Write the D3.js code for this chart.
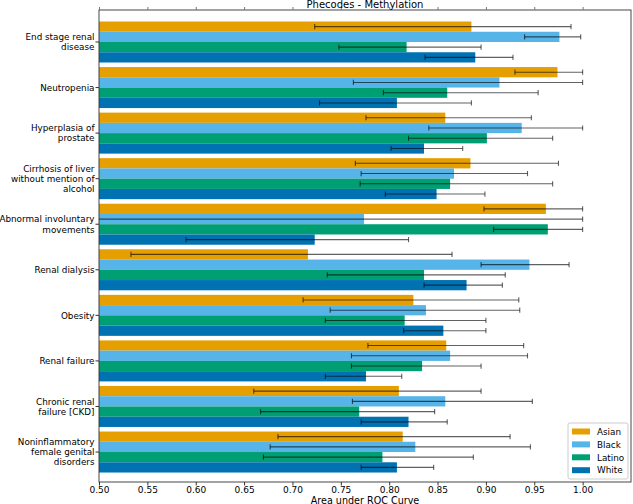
<!DOCTYPE html>
<html>
<head>
<meta charset="utf-8">
<script src="https://cdn.jsdelivr.net/npm/d3@7"></script>
<style>
  body { margin: 0; background: #fff; }
  svg { display: block; font-family: "DejaVu Sans", sans-serif; }
</style>
</head>
<body>
<svg id="chart" width="633" height="504"></svg>
<script>
// ---- data ----
const categories = [
  ["End stage renal", "disease"],
  ["Neutropenia"],
  ["Hyperplasia of", "prostate"],
  ["Cirrhosis of liver", "without mention of", "alcohol"],
  ["Abnormal involuntary", "movements"],
  ["Renal dialysis"],
  ["Obesity"],
  ["Renal failure"],
  ["Chronic renal", "failure [CKD]"],
  ["Noninflammatory", "female genital", "disorders"]
];
const seriesNames = ["Asian", "Black", "Latino", "White"];
const seriesColors = ["#E69F00", "#56B4E9", "#009E73", "#0072B2"];

const asianAUC = [0.885, 0.974, 0.858, 0.884, 0.962, 0.716, 0.825, 0.859, 0.810, 0.814];
const asianLo  = [0.723, 0.930, 0.776, 0.765, 0.898, 0.533, 0.711, 0.778, 0.660, 0.685];
const asianHi  = [0.988, 1.000, 0.947, 0.975, 1.000, 0.865, 0.934, 0.939, 0.895, 0.925];

const blackAUC = [0.976, 0.914, 0.937, 0.867, 0.774, 0.945, 0.838, 0.863, 0.858, 0.827];
const blackLo  = [0.940, 0.763, 0.841, 0.771, 0.450, 0.895, 0.739, 0.761, 0.762, 0.677];
const blackHi  = [0.998, 1.000, 1.000, 0.943, 1.000, 0.986, 0.935, 0.943, 0.948, 0.946];

const latinoAUC = [0.818, 0.860, 0.901, 0.863, 0.964, 0.836, 0.816, 0.834, 0.769, 0.793];
const latinoLo  = [0.748, 0.794, 0.820, 0.770, 0.908, 0.736, 0.734, 0.761, 0.667, 0.670];
const latinoHi  = [0.895, 0.954, 0.969, 0.969, 1.000, 0.920, 0.900, 0.895, 0.847, 0.887];

const whiteAUC = [0.889, 0.808, 0.836, 0.849, 0.723, 0.880, 0.856, 0.776, 0.820, 0.808];
const whiteLo  = [0.837, 0.728, 0.802, 0.796, 0.590, 0.836, 0.815, 0.734, 0.771, 0.771];
const whiteHi  = [0.928, 0.885, 0.876, 0.899, 0.820, 0.917, 0.900, 0.813, 0.860, 0.846];

const xTicks = [0.50, 0.55, 0.60, 0.65, 0.70, 0.75, 0.80, 0.85, 0.90, 0.95, 1.00];

const seriesData = [
  {auc: asianAUC, lo: asianLo, hi: asianHi},
  {auc: blackAUC, lo: blackLo, hi: blackHi},
  {auc: latinoAUC, lo: latinoLo, hi: latinoHi},
  {auc: whiteAUC, lo: whiteLo, hi: whiteHi}
];

// ---- layout ----
const L = 99, R = 631, T = 10, B = 482;
const svg = d3.select("#chart");
const x = d3.scaleLinear().domain([0.5, 1.05]).range([L, R]);
const y = d3.scaleLinear().domain([-0.7024, 9.658]).range([T, B]);
const barH = 0.225;

svg.append("defs").append("clipPath").attr("id", "plotclip")
  .append("rect").attr("x", L).attr("y", T).attr("width", R - L).attr("height", B - T);

const plot = svg.append("g").attr("clip-path", "url(#plotclip)");

seriesData.forEach((s, j) => {
  const g = plot.append("g");
  g.selectAll("rect").data(s.auc).enter().append("rect")
    .attr("x", x(0.5))
    .attr("y", (d, i) => y(i - 0.45 + j * barH))
    .attr("width", d => x(d) - x(0.5))
    .attr("height", y(barH) - y(0))
    .attr("fill", seriesColors[j]);
});

const errColor = "rgba(0,0,0,0.62)";
seriesData.forEach((s, j) => {
  const g = plot.append("g").attr("stroke", errColor).attr("stroke-width", 1.1);
  s.auc.forEach((d, i) => {
    const cy = y(i - 0.45 + (j + 0.5) * barH);
    g.append("line").attr("x1", x(s.lo[i])).attr("x2", x(s.hi[i])).attr("y1", cy).attr("y2", cy);
    [s.lo[i], s.hi[i]].forEach(v => {
      g.append("line").attr("x1", x(v)).attr("x2", x(v)).attr("y1", cy - 2.6).attr("y2", cy + 2.6);
    });
  });
});

// frame
svg.append("rect").attr("x", L).attr("y", T).attr("width", R - L).attr("height", B - T)
  .attr("fill", "none").attr("stroke", "#333").attr("stroke-width", 0.9);

// bottom axis
const xAxis = d3.axisBottom(x).tickValues(xTicks).tickFormat(d3.format(".2f")).tickSize(3.5).tickPadding(1.5);
const gx = svg.append("g").attr("transform", `translate(0,${B})`).call(xAxis);
gx.select(".domain").remove();
gx.selectAll("text").attr("font-size", "9px").attr("fill", "#000").attr("font-family", "DejaVu Sans, sans-serif");
gx.selectAll("line").attr("stroke", "#333");

// top ticks
const xTop = d3.axisTop(x).tickValues(xTicks).tickFormat("").tickSize(3);
const gt = svg.append("g").attr("transform", `translate(0,${T})`).call(xTop);
gt.select(".domain").remove();
gt.selectAll("line").attr("stroke", "#777");

// left ticks and labels
const gl = svg.append("g");
categories.forEach((lines, i) => {
  const cy = y(i);
  gl.append("line").attr("x1", L - 3.5).attr("x2", L).attr("y1", cy).attr("y2", cy).attr("stroke", "#333");
  const lh = 10.2;
  const t = gl.append("text").attr("text-anchor", "end").attr("font-size", "8.8px").attr("fill", "#000");
  lines.forEach((ln, k) => {
    t.append("tspan").attr("x", L - 4.5)
      .attr("y", cy + (k - (lines.length - 1) / 2) * lh + 3.2)
      .text(ln);
  });
});

// title
svg.append("text").attr("x", (L + R) / 2).attr("y", 7.8).attr("text-anchor", "middle")
  .attr("font-size", "10px").attr("fill", "#000").text("Phecodes - Methylation");

// x label
svg.append("text").attr("x", (L + R) / 2).attr("y", 503.5).attr("text-anchor", "middle")
  .attr("font-size", "9.6px").attr("fill", "#000").text("Area under ROC Curve");

// legend
const lg = svg.append("g");
lg.append("rect").attr("x", 568).attr("y", 423).attr("width", 60).attr("height", 56)
  .attr("rx", 2).attr("fill", "#fff").attr("fill-opacity", 0.85).attr("stroke", "#ccc");
seriesNames.forEach((n, j) => {
  const cy = 431.5 + j * 12.9;
  lg.append("rect").attr("x", 572).attr("y", cy - 3).attr("width", 18).attr("height", 6).attr("fill", seriesColors[j]);
  lg.append("text").attr("x", 597).attr("y", cy + 3.2).attr("font-size", "8.8px").attr("fill", "#000").text(n);
});
</script>
</body>
</html>
